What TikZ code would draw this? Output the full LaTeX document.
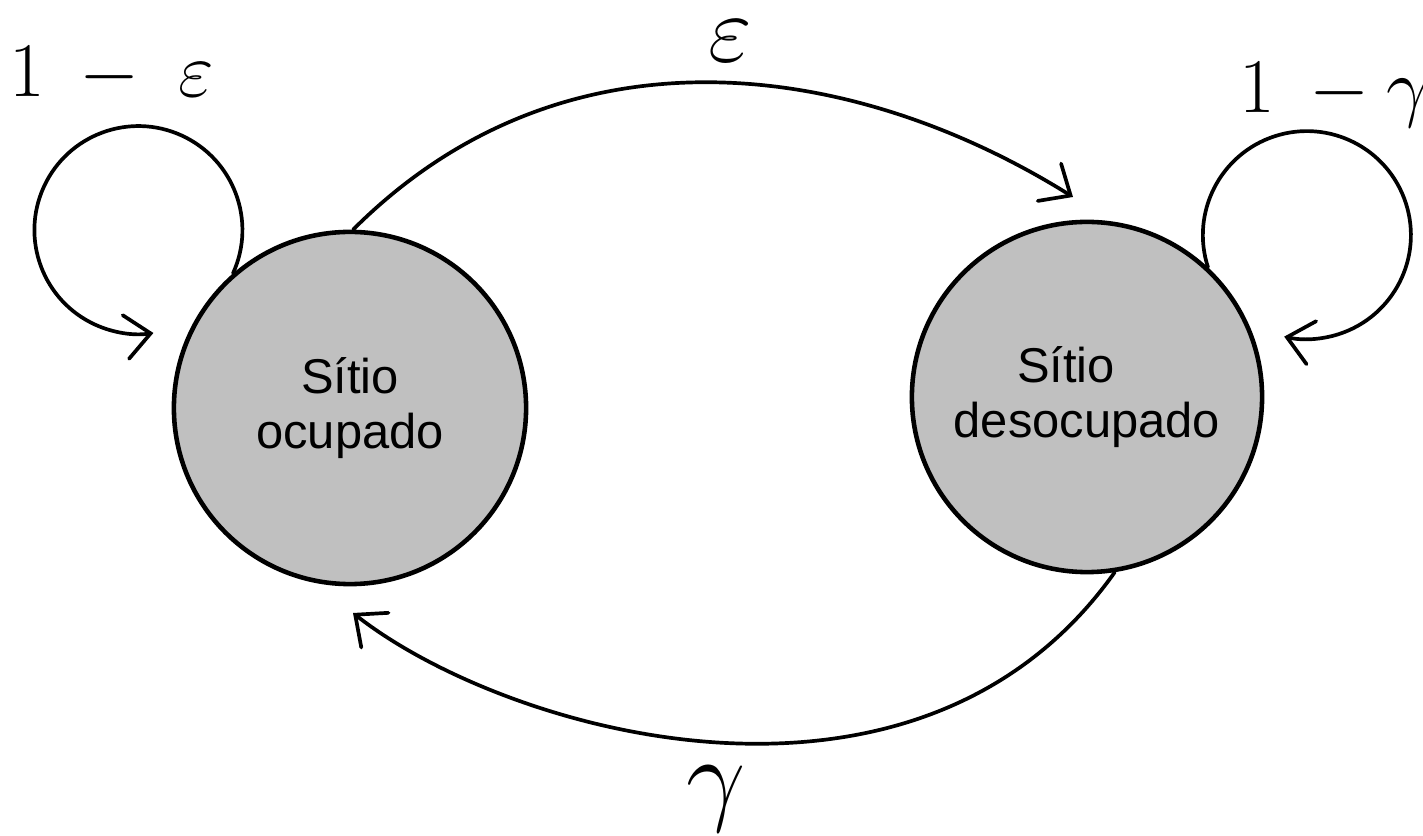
\RequirePackage{fix-cm}
\documentclass[tikz,border=0pt]{standalone}
\usepackage{fontspec}
\newfontfamily\arialfont{Liberation Sans}
\usetikzlibrary{arrows.meta}
\definecolor{stategray}{RGB}{192,192,192}
\tikzset{
  statenode/.style={circle, draw=black, line width=1.3pt, fill=stategray,
    align=center, inner sep=0pt, font=\arialfont\fontsize{13.9}{15.6}\selectfont},
  conn/.style={line width=1.05pt, line cap=round, line join=round,
    -{Straight Barb[length=0.25cm, width=0.44cm, line cap=round]}},
  smalllab/.style={inner sep=0pt, font=\fontsize{22}{26}\selectfont},
  biglab/.style={inner sep=0pt, font=\fontsize{30}{36}\selectfont}
}
\begin{document}
\begin{tikzpicture}[x=0.01cm, y=0.01cm]
\useasboundingbox (0,0) rectangle (1423,836);
% states
\node[statenode, minimum size=3.52cm] (occ) at (350,428) {Sítio\\ocupado};
\node[statenode, minimum size=3.50cm] (unocc) at (1087,439) {Sítio\hspace*{0.42cm}\\desocupado};
% free ends
\coordinate (epstip) at (1073,639);
\coordinate (gamtip) at (353,223);
% transitions
\draw[conn] (occ.89) .. controls (567,820) and (857,774) .. (epstip);
\draw[conn] (unocc.-81) .. controls (917,-15) and (506,103) .. (gamtip);
% self loops
\draw[conn] (occ.131) arc[start angle=-24.6, end angle=278.3, radius=104];
\draw[conn] (unocc.47) arc[start angle=198, end angle=-102.6, radius=104];
% labels
\node[smalllab, anchor=base west] (lself1) at (9,739) {$1\mkern4mu-\mkern5mu\varepsilon$};
\node[smalllab, anchor=base west] (lself2) at (1239,723) {$1\mkern4mu-\gamma$};
\node[biglab, font=\fontsize{27}{32}\selectfont, anchor=base] (leps) at (730,774) {$\varepsilon$};
\node[biglab, anchor=north] (lgam) at (716,71) {$\gamma$};
\end{tikzpicture}
\end{document}
